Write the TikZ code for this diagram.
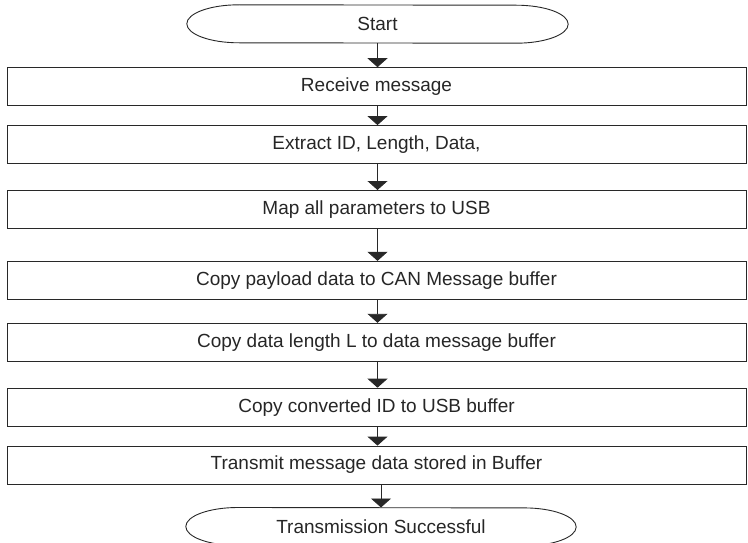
\documentclass[tikz,border=0pt]{standalone}
\usepackage{fontspec}
\setmainfont{Liberation Sans}
\usepackage{tikz}
\usetikzlibrary{arrows.meta, positioning}
\definecolor{lineclr}{RGB}{40, 40, 40}

\begin{document}
\begin{tikzpicture}[x=1pt, y=1pt,
    box/.style={draw=lineclr, line width=0.9pt, minimum width=739pt, minimum height=38pt, inner sep=0pt, font=\fontsize{19}{22}\selectfont, text=black!85},
    term/.style={minimum height=38pt, inner sep=0pt, font=\fontsize{19}{22}\selectfont, text=black!85},
    arr/.style={-{Triangle[width=20pt, length=9pt]}, draw=lineclr, line width=0.9pt}]
        \useasboundingbox (0,0) rectangle (748,-543);
        % Terminals and steps
        \node[term, minimum width=381pt] (start) at (377.5,-24) {Start};
        \node[box, below=24pt of start, xshift=-1pt] (recv) {Receive message};
        \node[box, below=19pt of recv] (extract) {Extract ID, Length, Data,};
        \node[box, below=26pt of extract] (map) {Map all parameters to USB};
        \node[box, below=32pt of map] (payload) {Copy payload data to CAN Message buffer};
        \node[box, below=23pt of payload] (length) {Copy data length L to data message buffer};
        \node[box, below=26pt of length] (convid) {Copy converted ID to USB buffer};
        \node[box, below=19pt of convid] (transmit) {Transmit message data stored in Buffer};
        \node[term, minimum width=390pt, below=23pt of transmit, xshift=4.5pt] (stop) {Transmission Successful};
        % Rounded ends of the terminals
        \foreach \n in {start, stop}
            \draw[draw=lineclr, line width=0.9pt] ([xshift=52pt]\n.north west) arc[start angle=90, end angle=270, x radius=52pt, y radius=19pt]
                -- ([xshift=-52pt]\n.south east) arc[start angle=-90, end angle=90, x radius=52pt, y radius=19pt] -- cycle;
        % Arrows
        \draw[arr] (start.south) -- (start.south |- recv.north);
        \draw[arr] (start.south |- recv.south) -- (start.south |- extract.north);
        \draw[arr] (start.south |- extract.south) -- (start.south |- map.north);
        \draw[arr] (start.south |- map.south) -- (start.south |- payload.north);
        \draw[arr] (start.south |- payload.south) -- (start.south |- length.north);
        \draw[arr] (start.south |- length.south) -- (start.south |- convid.north);
        \draw[arr] (start.south |- convid.south) -- (start.south |- transmit.north);
        \draw[arr] (stop.north |- transmit.south) -- (stop.north);
    \end{tikzpicture}
\end{document}
